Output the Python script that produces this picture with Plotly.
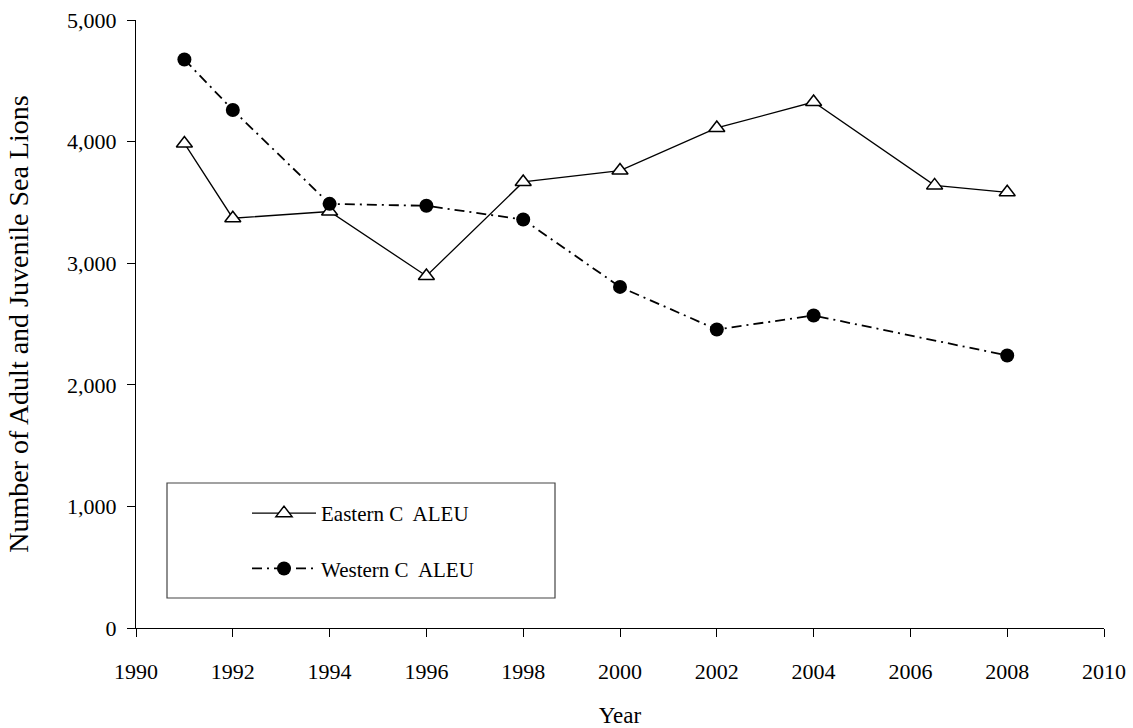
import plotly.graph_objects as go

# Survey counts of adult and juvenile Steller sea lions
east_years = [1991, 1992, 1994, 1996, 1998, 2000, 2002, 2004, 2006.5, 2008]
east_counts = [3985, 3370, 3425, 2895, 3668, 3762, 4112, 4325, 3640, 3583]

west_years = [1991, 1992, 1994, 1996, 1998, 2000, 2002, 2004, 2008]
west_counts = [4675, 4260, 3488, 3472, 3359, 2805, 2455, 2570, 2241]

x_ticks = list(range(1990, 2011, 2))
y_ticks = [0, 1000, 2000, 3000, 4000, 5000]

FONT = "Liberation Serif, Times New Roman, serif"

fig = go.Figure()

fig.add_trace(go.Scatter(
    x=east_years, y=east_counts, name="Eastern C  ALEU",
    mode="lines+markers", legendgroup="e",
    line=dict(color="black", width=1.3),
    marker=dict(symbol="triangle-up", size=14, color="white",
                line=dict(color="black", width=1.5)),
))

fig.add_trace(go.Scatter(
    x=west_years, y=west_counts, name="Western C  ALEU",
    mode="lines+markers", legendgroup="w",
    line=dict(color="black", width=1.8, dash="10px,5px,2px,5px"),
    marker=dict(symbol="circle", size=14, color="black"),
))

W, H = 1133, 728
L, R, T, B = 136, 29, 20, 100
pw, ph = W - L - R, H - T - B

def px_x(p):
    return (p - L) / pw

def px_y(p):
    return (H - B - p) / ph

# legend frame
fig.add_shape(type="rect", xref="paper", yref="paper",
              x0=px_x(167), x1=px_x(555), y0=px_y(598), y1=px_y(483),
              line=dict(color="#444", width=1.2), fillcolor="rgba(0,0,0,0)")

fig.update_layout(
    width=W, height=H,
    margin=dict(l=L, r=R, t=T, b=B),
    paper_bgcolor="white", plot_bgcolor="white",
    font=dict(family=FONT, size=22, color="black"),
    showlegend=True,
    legend=dict(
        x=px_x(247), y=px_y(493), xanchor="left", yanchor="top",
        bgcolor="rgba(0,0,0,0)", borderwidth=0,
        font=dict(family=FONT, size=21, color="black"),
        itemwidth=64, tracegroupgap=25, traceorder="grouped",
    ),
    xaxis=dict(
        range=[1990, 2010], tickvals=x_ticks, ticktext=[str(v) for v in x_ticks],
        showgrid=False, zeroline=False, showline=True, linecolor="black", linewidth=1,
        ticks="outside", ticklen=8, tickcolor="black", tickwidth=1,
        ticklabelstandoff=16, automargin=False,
        title=dict(text="Year", font=dict(family=FONT, size=23), standoff=28),
    ),
    yaxis=dict(
        range=[0, 5000], tickvals=y_ticks, tickformat=",d",
        showgrid=False, zeroline=False, showline=True, linecolor="black", linewidth=1,
        ticks="outside", ticklen=8, tickcolor="black", tickwidth=1,
        ticklabelstandoff=6, automargin=False,
        title=dict(text="Number of Adult and Juvenile Sea Lions",
                   font=dict(family=FONT, size=28), standoff=30),
    ),
)

fig.write_html("out.html")
